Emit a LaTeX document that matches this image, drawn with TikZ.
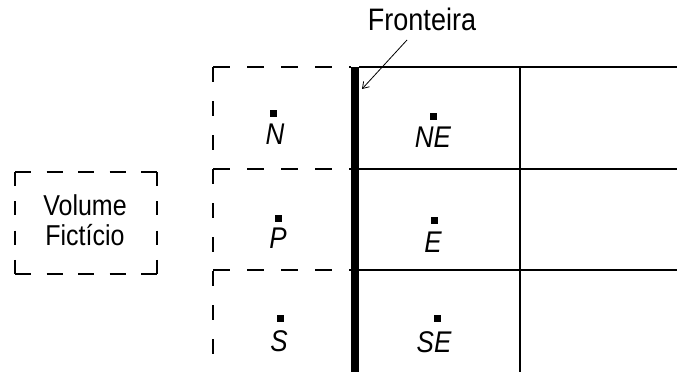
\documentclass[tikz,border=0pt]{standalone}
\usepackage{fontspec}
\setmainfont{Liberation Sans}
\usetikzlibrary{arrows.meta}
\newcommand{\vstr}[1]{\scalebox{1}[1.15]{#1}}
\begin{document}
\begin{tikzpicture}[x=1pt,y=-1pt,
  thinline/.style={line width=1.4pt},
  dashline/.style={line width=1.4pt, dash pattern=on 17pt off 17pt},
  vdash/.style={line width=1.4pt, dash pattern=on 15pt off 19pt},
  thickline/.style={line width=8pt},
  pt/.style={fill=black, minimum size=7pt, inner sep=0pt},
  lbl/.style={font=\fontsize{26}{30}\selectfont\itshape, inner sep=0pt},
  txt/.style={font=\fontsize{25}{30}\selectfont, inner sep=0pt}]
\useasboundingbox (0,0) rectangle (677,372);
% dashed fictitious column
\draw[vdash] (213,67) -- (213,372);
\draw[dashline] (213,67) -- (351,67);
\draw[dashline] (213,169) -- (351,169);
\draw[dashline] (213,270) -- (351,270);
% solid interior grid
\draw[thinline] (359,67) -- (677,67);
\draw[thinline] (359,169) -- (677,169);
\draw[thinline] (359,270) -- (677,270);
\draw[thinline] (520,67) -- (520,372);
% boundary
\draw[thickline] (355,67) -- (355,372);
% points and labels
\node[pt] (dN) at (273,113) {};   \node[lbl] (N) at (275,134) {\vstr{N}};
\node[pt] (dNE) at (433,116) {};  \node[lbl] (NE) at (433,137) {\vstr{NE}};
\node[pt] (dP) at (278,218) {};   \node[lbl] (P) at (278,238) {\vstr{P}};
\node[pt] (dE) at (434,220) {};   \node[lbl] (E) at (433,242) {\vstr{E}};
\node[pt] (dS) at (280,318) {};   \node[lbl] (S) at (279,341) {\vstr{S}};
\node[pt] (dSE) at (437,318) {};  \node[lbl] (SE) at (434,342) {\vstr{SE}};
% volume ficticio box
\draw[line width=1.4pt, dash pattern=on 16pt off 15.5pt] (15,172) -- (157,172);
\draw[line width=1.4pt, dash pattern=on 16pt off 15.5pt] (15,274) -- (157,274);
\draw[line width=1.4pt, dash pattern=on 14pt off 15.3pt] (15,172) -- (15,274);
\draw[line width=1.4pt, dash pattern=on 14pt off 15.3pt] (157,172) -- (157,274);
\node[txt] (vol) at (85,205) {\vstr{Volume}};
\node[txt] (fic) at (85,235) {\vstr{Fictício}};
% fronteira label
\node[txt, font=\fontsize{27}{30}\selectfont] (fr) at (422,19) {\vstr{Fronteira}};
\coordinate (fe) at (362,89);
\draw[line width=0.8pt, -{Straight Barb[length=6pt,width=8pt]}] (407,40) -- (fe);
\end{tikzpicture}
\end{document}
